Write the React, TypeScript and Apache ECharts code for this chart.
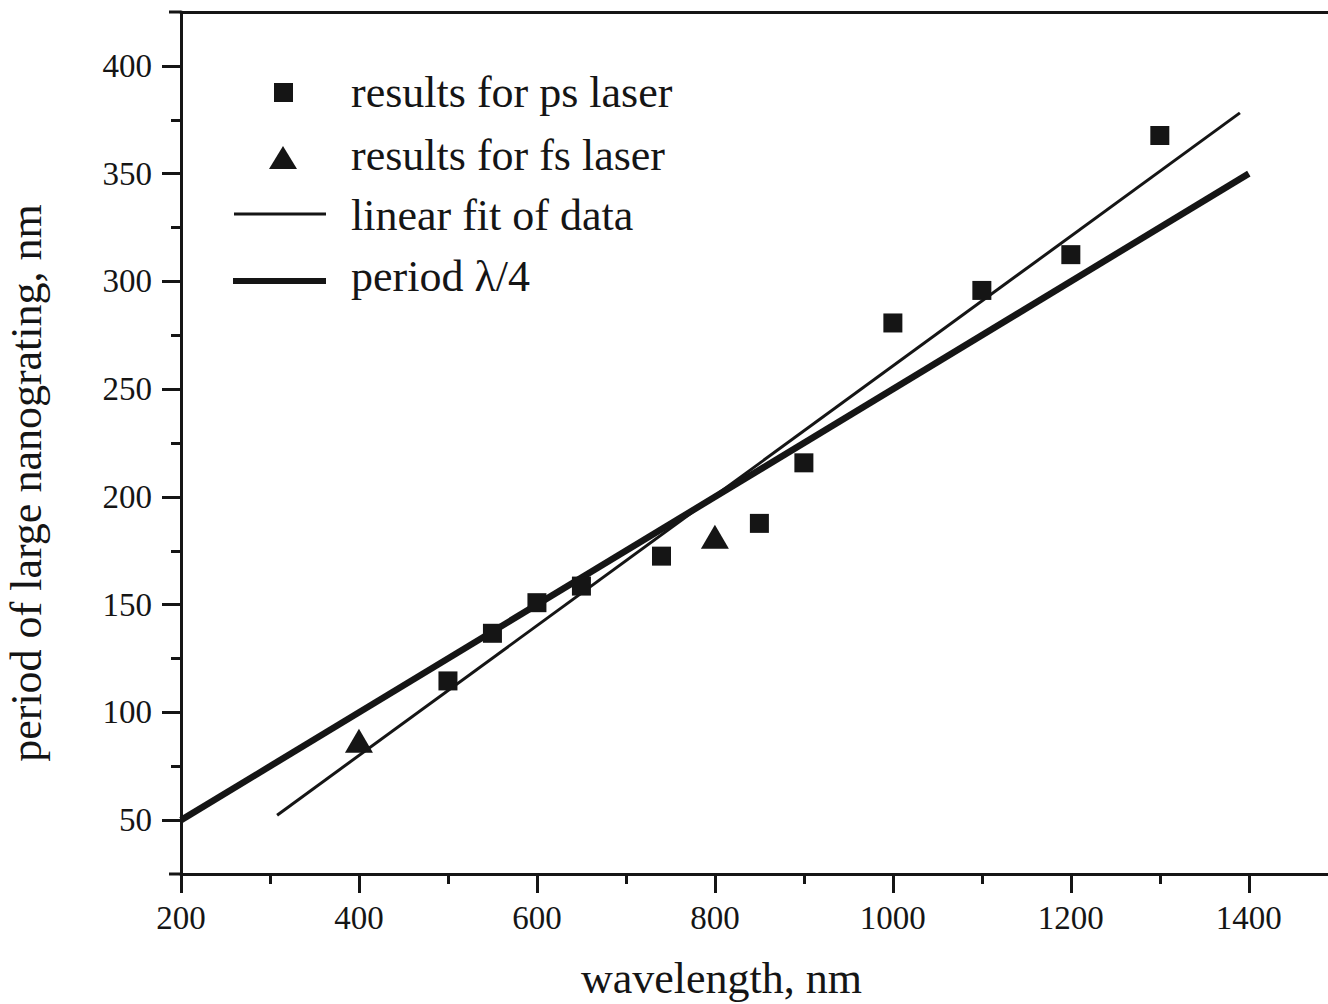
import React, { useEffect, useRef } from "react";
import * as echarts from "echarts";

const psLaser: [number, number][] = [
  [500, 114.6], [550, 136.7], [600, 150.9], [650, 158.6], [740, 172.5],
  [850, 187.7], [900, 215.8], [1000, 280.7], [1100, 295.8], [1200, 312.4], [1300, 367.7],
];
const fsLaser: [number, number][] = [
  [400, 86.8], [800, 181.5],
];
const linearFit: [number, number][] = [
  [308, 52.3], [1390, 378.2],
];
const lambdaQuarter: [number, number][] = [
  [200, 50], [1400, 350],
];
const xMajorTicks = [200, 400, 600, 800, 1000, 1200, 1400];
const xMinorTicks = [300, 500, 700, 900, 1100, 1300];
const yMajorTicks = [50, 100, 150, 200, 250, 300, 350, 400];
const yMinorTicks = [75, 125, 175, 225, 275, 325, 375];
const legendLabels = ["results for ps laser", "results for fs laser", "linear fit of data", "period \u03bb/4"];

const INK = "#151515";
const FONT = '"Liberation Serif", "Times New Roman", serif';
const plain = (v: number) => String(v);

export default function App() {
  const ref = useRef<HTMLDivElement>(null);
  useEffect(() => {
    if (!ref.current) return;
    const chart = echarts.init(ref.current, undefined, { renderer: "svg" });
    const lineW = 3;
    const X_MAX = 1489;
    const option: any = {
      animation: false,
      backgroundColor: "#ffffff",
      grid: { left: 181, right: 0, top: 12, bottom: 130, containLabel: false, outerBoundsMode: "none" },
      xAxis: [
        {
          type: "value", min: 200, max: X_MAX, position: "bottom",
          axisLine: { show: true, lineStyle: { color: INK, width: lineW } },
          axisTick: { show: true, customValues: xMajorTicks, length: 19, lineStyle: { color: INK, width: lineW } },
          axisLabel: { show: true, customValues: xMajorTicks, formatter: plain, margin: 27, fontSize: 33, fontFamily: FONT, color: INK },
          splitLine: { show: false },
          name: "wavelength, nm", nameLocation: "middle", nameGap: 82,
          nameTextStyle: { fontSize: 44, fontFamily: FONT, color: INK, padding: [0, 66, 0, 0] },
        },
        {
          type: "value", min: 200, max: X_MAX, position: "bottom",
          axisLine: { show: false },
          axisTick: { show: true, customValues: xMinorTicks, length: 10, lineStyle: { color: INK, width: lineW } },
          axisLabel: { show: false },
          splitLine: { show: false },
        },
        {
          type: "value", min: 200, max: X_MAX, position: "top",
          axisLine: { show: true, lineStyle: { color: INK, width: lineW } },
          axisTick: { show: false },
          axisLabel: { show: false },
          splitLine: { show: false },
        },
      ],
      yAxis: [
        {
          type: "value", min: 25, max: 425, position: "left",
          axisLine: { show: true, lineStyle: { color: INK, width: lineW } },
          axisTick: { show: true, customValues: yMajorTicks, length: 19, lineStyle: { color: INK, width: lineW } },
          axisLabel: { show: true, customValues: yMajorTicks, formatter: plain, margin: 29, fontSize: 33, fontFamily: FONT, color: INK },
          splitLine: { show: false },
          name: "period of large nanograting, nm", nameLocation: "middle", nameGap: 133, nameRotate: 90,
          nameTextStyle: { fontSize: 44, fontFamily: FONT, color: INK, padding: [0, 80, 0, 0] },
        },
        {
          type: "value", min: 25, max: 425, position: "left",
          axisLine: { show: false },
          axisTick: { show: true, customValues: yMinorTicks, length: 10, lineStyle: { color: INK, width: lineW } },
          axisLabel: { show: false },
          splitLine: { show: false },
        },
      ],
      series: [
        {
          name: legendLabels[3], type: "line", data: lambdaQuarter, symbol: "none",
          lineStyle: { color: INK, width: 6.5 }, z: 2,
        },
        {
          name: legendLabels[2], type: "line", data: linearFit, symbol: "none",
          lineStyle: { color: INK, width: 3 }, z: 2,
        },
        {
          name: legendLabels[0], type: "scatter", data: psLaser, symbol: "rect", symbolSize: 19,
          itemStyle: { color: INK, opacity: 1 }, z: 3,
        },
        {
          name: legendLabels[1], type: "scatter", data: fsLaser, symbol: "triangle", symbolSize: [28, 24],
          itemStyle: { color: INK, opacity: 1 }, z: 3,
        },
      ],
      graphic: [
        { type: "line", shape: { x1: 169, y1: 874, x2: 181, y2: 874 }, style: { stroke: INK, lineWidth: lineW } },
        { type: "line", shape: { x1: 169, y1: 12, x2: 181, y2: 12 }, style: { stroke: INK, lineWidth: lineW } },
        { type: "rect", shape: { x: 274, y: 83, width: 19, height: 19 }, style: { fill: INK } },
        { type: "polygon", shape: { points: [[283, 146], [297, 169], [269, 169]] }, style: { fill: INK } },
        { type: "line", shape: { x1: 234, y1: 214, x2: 326, y2: 214 }, style: { stroke: INK, lineWidth: 3 } },
        { type: "line", shape: { x1: 233, y1: 281, x2: 326, y2: 281 }, style: { stroke: INK, lineWidth: 6 } },
        { type: "text", x: 351, y: 92, style: { text: legendLabels[0], fontSize: 44, fontFamily: FONT, fill: INK, verticalAlign: "middle" } },
        { type: "text", x: 351, y: 155, style: { text: legendLabels[1], fontSize: 44, fontFamily: FONT, fill: INK, verticalAlign: "middle" } },
        { type: "text", x: 351, y: 215, style: { text: legendLabels[2], fontSize: 44, fontFamily: FONT, fill: INK, verticalAlign: "middle" } },
        { type: "text", x: 351, y: 276, style: { text: legendLabels[3], fontSize: 44, fontFamily: FONT, fill: INK, verticalAlign: "middle" } },
      ],
    };
    chart.setOption(option);
    return () => chart.dispose();
  }, []);
  return (
    <div
      ref={ref}
      style={{ position: "fixed", left: 0, top: 0, width: 1328, height: 1004, background: "#fff" }}
    />
  );
}
